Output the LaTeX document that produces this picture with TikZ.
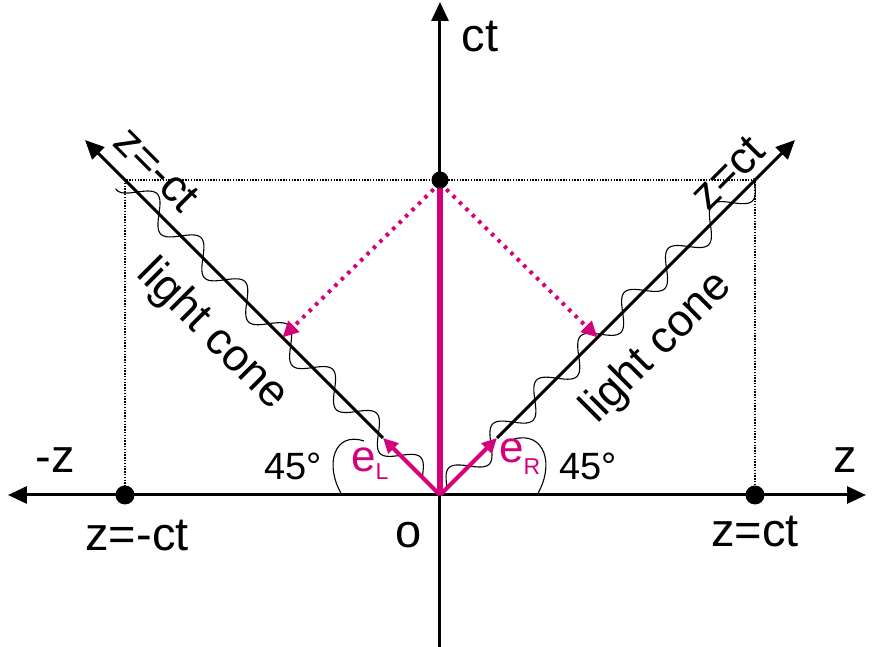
\documentclass[tikz,border=0pt]{standalone}
\usepackage{fontspec}
\setmainfont{Liberation Sans}
\usetikzlibrary{arrows.meta}
\definecolor{mag}{RGB}{214,0,122}
\begin{document}
\begin{tikzpicture}[x=1pt,y=1pt,
  axisline/.style={line width=3pt,-{Triangle[length=19pt,width=17pt]}},
  thinwave/.style={line width=1.1pt},
  guide/.style={line width=1.3pt,dash pattern=on 1.4pt off 1.4pt},
  magdot/.style={mag,line width=4pt,dash pattern=on 3.5pt off 5.5pt,-{Triangle[length=16pt,width=15pt]}},
  magvec/.style={mag,line width=4pt,-{Triangle[length=15pt,width=14pt]}},
  bigdot/.style={circle,fill=black,inner sep=0pt,minimum size=#1},
  lbl/.style={font=\fontsize{47}{47}\selectfont,inner sep=0pt},
  rlbl/.style={font=\fontsize{45}{45}\selectfont,inner sep=0pt},
  lblsmall/.style={font=\fontsize{38}{38}\selectfont,inner sep=0pt},
  maglbl/.style={mag,font=\fontsize{44}{44}\selectfont,inner sep=0pt}]
\useasboundingbox (-440,-152) rectangle (433,495);
% key coordinates
\coordinate (O) at (0,0);
\coordinate (XL) at (-432,0);
\coordinate (XR) at (426,0);
\coordinate (YB) at (0,-152);
\coordinate (YT) at (0,493);
\coordinate (CL) at (-315,315);
\coordinate (CR) at (315,315);
\coordinate (EL) at (-57,57);
\coordinate (ER) at (57,57);
\coordinate (AL) at (-355,355);
\coordinate (AR) at (355,355);
\coordinate (FL) at (-157.5,157.5);
\coordinate (FR) at (157.5,157.5);
% waves along light cone
\begin{scope}[rotate=135]
  \draw[thinwave] plot[domain=25:446,samples=240,smooth] (\x,{-13*sin(5.8*(\x-25))});
\end{scope}
\begin{scope}[rotate=45]
  \draw[thinwave] plot[domain=10:446,samples=240,smooth] (\x,{13*sin(5.8*(\x-10))});
\end{scope}
% 45 degree arcs
\draw[thinwave] (-98,0) .. controls (-116,30) and (-106,64) .. (-76,54);
\draw[thinwave] (97,0) .. controls (115,30) and (105,64) .. (74,56);
% dotted guides
\draw[guide] (-315,0) -- (CL) -- (CR) -- (315,0);
% axes
\draw[line width=3pt,{Triangle[length=19pt,width=17pt]}-{Triangle[length=19pt,width=17pt]}] (XL) -- (XR);
\draw[axisline] (YB) -- (YT);
% light cone lines
\draw[axisline] (EL) -- (AL);
\draw[axisline] (ER) -- (AR);
% dots
\node[bigdot=19pt] (PL) at (-315,0) {};
\node[bigdot=19pt] (PR) at (315,0) {};
% magenta
\draw[mag,line width=5.5pt] (O) -- (0,315);
\draw[magdot] (0,312) -- (FL);
\draw[magdot] (0,312) -- (FR);
\draw[magvec] (O) -- (EL);
\draw[magvec] (O) -- (ER);
\node[bigdot=17pt] (T) at (0,315) {};
% labels
\node[lbl,anchor=base] (ct) at (40,443) {ct};
\node[lbl,anchor=base] (mz) at (-385,22) {-z};
\node[lbl,anchor=base] (pz) at (405,22) {z};
\node[lbl,anchor=base] (zmct) at (-303,-56) {z=-ct};
\node[lbl,anchor=base] (zct) at (315,-52) {z=ct};
\node[lbl,anchor=base] (o) at (-31,-53) {o};
\node[rlbl,rotate=-45] (zmctd) at (-283,326) {z=-ct};
\node[rlbl,rotate=45] (zctd) at (288,322) {z=ct};
\node[rlbl,rotate=-45] (lcl) at (-228,160) {light cone};
\node[rlbl,rotate=45] (lcr) at (217,147) {light cone};
\node[lblsmall,anchor=base] (al) at (-147,15) {45°};
\node[lblsmall,anchor=base] (ar) at (148,15) {45°};
\node[maglbl,anchor=base west] (eL) at (-89,23) {e\raisebox{-8pt}{\fontsize{23}{23}\selectfont L}};
\node[maglbl,anchor=base west] (eR) at (59,32) {e\raisebox{-12pt}{\fontsize{23}{23}\selectfont R}};
\end{tikzpicture}
\end{document}
